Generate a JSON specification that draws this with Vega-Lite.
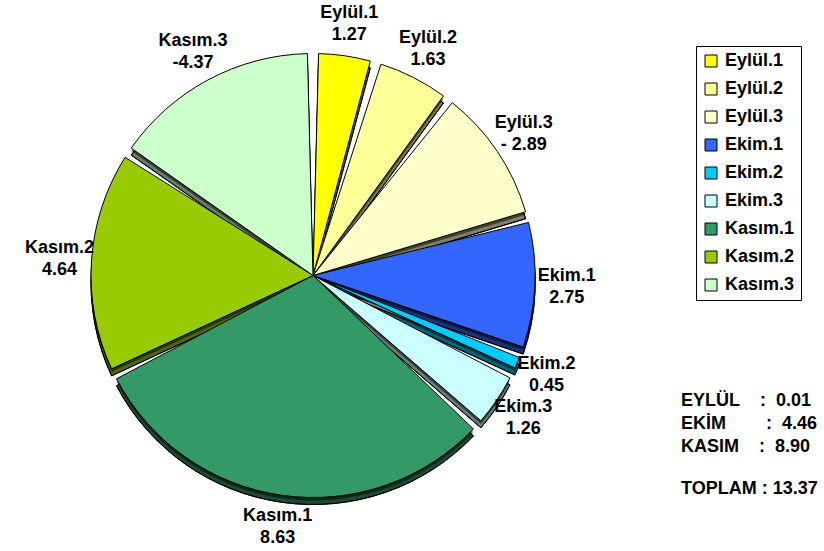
{
  "$schema": "https://vega.github.io/schema/vega-lite/v6.json",
  "width": 626,
  "height": 551,
  "autosize": {"type": "none"},
  "padding": {"left": 0, "top": 0, "right": 198, "bottom": 0},
  "background": "white",
  "config": {"view": {"stroke": null}, "font": "Liberation Sans"},
  "title": {
    "text": ["EYLÜL\u00a0\u00a0\u00a0\u00a0:\u00a0\u00a00.01", "EKİM\u00a0\u00a0\u00a0\u00a0\u00a0\u00a0\u00a0\u00a0:\u00a0\u00a04.46", "KASIM\u00a0\u00a0\u00a0\u00a0:\u00a0\u00a08.90"],
    "subtitle": "TOPLAM : 13.37",
    "subtitlePadding": 24,
    "orient": "top",
    "anchor": "end",
    "frame": "group",
    "align": "left",
    "baseline": "top",
    "offset": 0,
    "dx": 55,
    "dy": 498,
    "font": "Liberation Sans",
    "fontSize": 18,
    "fontWeight": "bold",
    "color": "black",
    "lineHeight": 23,
    "subtitleFont": "Liberation Sans",
    "subtitleFontSize": 18,
    "subtitleFontWeight": "bold",
    "subtitleColor": "black",
    "subtitleLineHeight": 22
  },
  "data": {
    "values": [
      {"i": 1, "name": "Eylül.1", "v": 1.27, "label": "Eylül.1\n1.27"},
      {"i": 2, "name": "Eylül.2", "v": 1.63, "label": "Eylül.2\n1.63"},
      {"i": 3, "name": "Eylül.3", "v": 2.89, "label": "Eylül.3\n- 2.89"},
      {"i": 4, "name": "Ekim.1", "v": 2.75, "label": "Ekim.1\n2.75"},
      {"i": 5, "name": "Ekim.2", "v": 0.45, "label": "Ekim.2\n0.45"},
      {"i": 6, "name": "Ekim.3", "v": 1.26, "label": "Ekim.3\n1.26"},
      {"i": 7, "name": "Kasım.1", "v": 8.63, "label": "Kasım.1\n8.63"},
      {"i": 8, "name": "Kasım.2", "v": 4.64, "label": "Kasım.2\n4.64"},
      {"i": 9, "name": "Kasım.3", "v": 4.37, "label": "Kasım.3\n-4.37"}
    ]
  },
  "encoding": {
    "theta": {"field": "v", "type": "quantitative", "stack": true},
    "order": {"field": "i", "type": "quantitative"}
  },
  "layer": [
    {
      "mark": {"type": "arc", "outerRadius": 222, "padAngle": 0.05, "yOffset": 7, "stroke": "black", "strokeWidth": 1},
      "encoding": {
        "color": {
          "field": "name", "type": "nominal",
          "sort": ["Eylül.1", "Eylül.2", "Eylül.3", "Ekim.1", "Ekim.2", "Ekim.3", "Kasım.1", "Kasım.2", "Kasım.3"],
          "scale": {
            "domain": ["Eylül.1", "Eylül.2", "Eylül.3", "Ekim.1", "Ekim.2", "Ekim.3", "Kasım.1", "Kasım.2", "Kasım.3"],
            "range": ["#FFFF00", "#FFFF99", "#FFFFCC", "#3366FF", "#00CCFF", "#CCFFFF", "#339966", "#99CC00", "#CCFFCC"]
          },
          "legend": {
            "title": null,
            "orient": "none",
            "legendX": 696,
            "legendY": 46,
            "symbolType": "square",
            "symbolSize": 144,
            "symbolStrokeColor": "black",
            "symbolStrokeWidth": 1,
            "symbolOpacity": 1,
            "labelFont": "Liberation Sans",
            "labelFontSize": 18,
            "labelFontWeight": "bold",
            "labelColor": "black",
            "labelOffset": 5,
            "rowPadding": 10,
            "padding": 6,
            "strokeColor": "black",
            "fillColor": "white"
          }
        }
      }
    },
    {
      "mark": {"type": "arc", "outerRadius": 222, "padAngle": 0.05, "yOffset": 7, "fill": "black", "fillOpacity": 0.5, "stroke": "black", "strokeWidth": 1},
      "encoding": {}
    },
    {
      "mark": {"type": "arc", "outerRadius": 222, "padAngle": 0.05, "yOffset": 3, "fill": "black", "fillOpacity": 0.5},
      "encoding": {}
    },
    {
      "mark": {"type": "arc", "outerRadius": 222, "padAngle": 0.05, "stroke": "black", "strokeWidth": 1},
      "encoding": {
        "color": {"field": "name", "type": "nominal"}
      }
    },
    {
      "mark": {"type": "text", "radius": 254, "dy": -11, "font": "Liberation Sans", "fontSize": 18, "fontWeight": "bold", "color": "black", "lineBreak": "\n", "lineHeight": 22, "align": "center", "baseline": "middle"},
      "encoding": {
        "text": {"field": "label", "type": "nominal"}
      }
    }
  ]
}
